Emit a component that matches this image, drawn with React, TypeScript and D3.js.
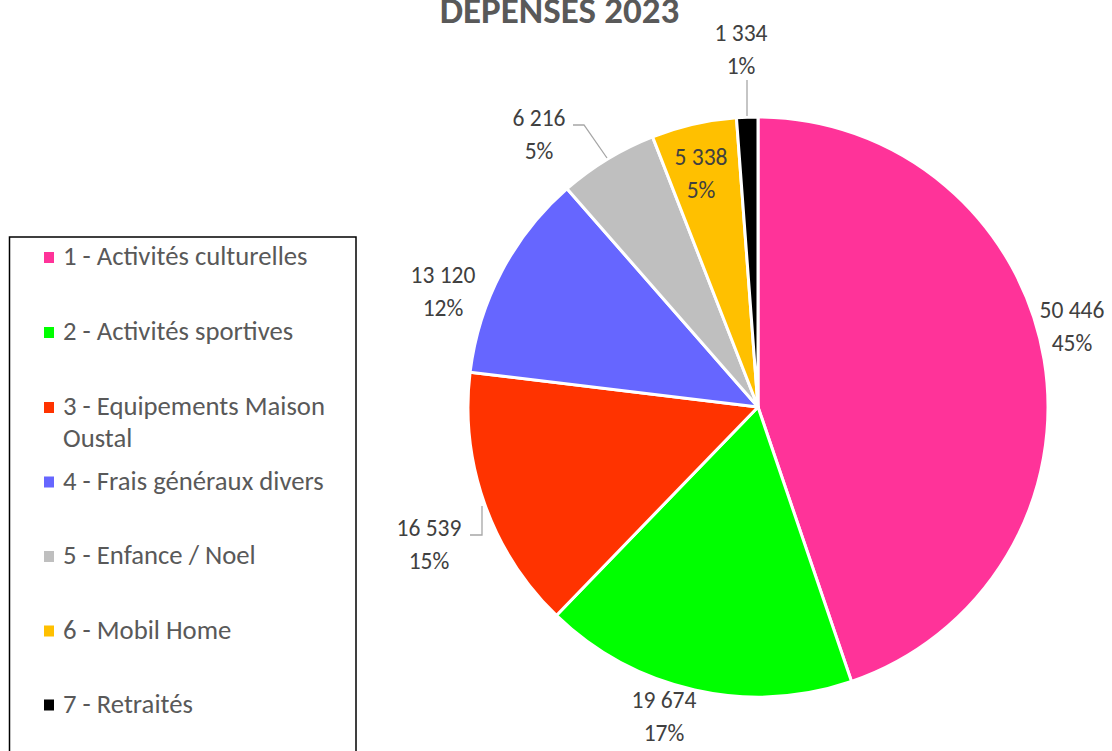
import React from "react";
import * as d3 from "d3";

const categories = [
  "1 - Activités culturelles",
  "2 - Activités sportives",
  "3 - Equipements Maison Oustal",
  "4 - Frais généraux divers",
  "5 - Enfance / Noel",
  "6 - Mobil Home",
  "7 - Retraités",
];
const values = [50446, 19674, 16539, 13120, 6216, 5338, 1334];
const percentLabels = ["45%", "17%", "15%", "12%", "5%", "5%", "1%"];
const colors = ["#FF3399", "#00FF00", "#FF3300", "#6666FF", "#BFBFBF", "#FFC000", "#000000"];
const legendLines = [
  ["1 - Activités culturelles"],
  ["2 - Activités sportives"],
  ["3 - Equipements Maison", "Oustal"],
  ["4 - Frais généraux divers"],
  ["5 - Enfance / Noel"],
  ["6 - Mobil Home"],
  ["7 - Retraités"],
];
const title = "DEPENSES 2023";

const W = 1112;
const H = 751;
const cx = 758;
const cy = 407;
const R = 290;
const FONT = "Carlito, Calibri, Lato, 'Open Sans', sans-serif";
const TXT = "#404040";

// label anchor: [center x, baseline of first line]
const labelPos: [number, number][] = [
  [1072, 318],
  [664, 708],
  [429, 536],
  [443, 283],
  [539, 126],
  [701, 165],
  [741, 41],
];

const fmt = (v: number) => d3.format(",")(v).replace(/,/g, " ");

export default function App() {
  const pie = d3.pie<number>().sort(null).value((d) => d)(values);
  const arc = d3.arc<d3.PieArcDatum<number>>().innerRadius(0).outerRadius(R);
  const legendY = [257.5, 332.5, 407.5, 482, 556.5, 631, 705];

  return (
    <svg width={W} height={H} style={{ display: "block", position: "absolute", left: 0, top: 0 }}>
      <rect x={0} y={0} width={W} height={H} fill="#fff" />
      <text x={559.5} y={23} textAnchor="middle" fontFamily={FONT} fontWeight="bold" fontSize={37} fill="#595959">
        {title}
      </text>
      <g transform={`translate(${cx},${cy})`}>
        {pie.map((p, i) => (
          <path key={i} d={arc(p) || ""} fill={colors[i]} stroke="#fff" strokeWidth={3} strokeLinejoin="round" />
        ))}
      </g>
      {/* leader lines */}
      <polyline points="470,535 482,535 482,506" fill="none" stroke="#A6A6A6" strokeWidth={1.3} />
      <polyline points="573,125 584,125 607,158" fill="none" stroke="#A6A6A6" strokeWidth={1.3} />
      <polyline points="747,80 747,116" fill="none" stroke="#A6A6A6" strokeWidth={1.3} />
      {pie.map((p, i) => {
        const [lx, ly] = labelPos[i];
        return (
          <text key={i} textAnchor="middle" fontFamily={FONT} fontSize={23.5} fill={TXT}>
            <tspan x={lx} y={ly}>{fmt(values[i])}</tspan>
            <tspan x={lx} y={ly + 33}>{percentLabels[i]}</tspan>
          </text>
        );
      })}
      {/* legend */}
      <rect x={9.5} y={237} width={346.5} height={530} fill="none" stroke="#000" strokeWidth={1.5} />
      {legendLines.map((lines, i) => (
        <g key={i}>
          <rect x={44} y={legendY[i] - 5.5} width={10} height={11} fill={colors[i]} />
          <text fontFamily={FONT} fontSize={26.7} fill="#595959">
            {lines.map((l, j) => (
              <tspan key={j} x={63} y={legendY[i] + 7.5 + j * 32}>{l}</tspan>
            ))}
          </text>
        </g>
      ))}
    </svg>
  );
}
